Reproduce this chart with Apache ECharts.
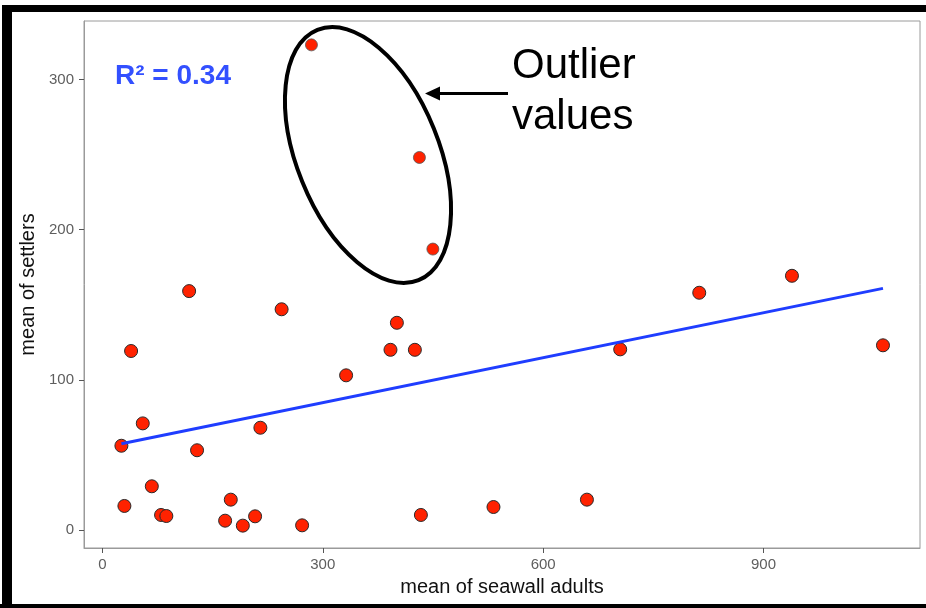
<!DOCTYPE html>
<html>
<head>
<meta charset="utf-8">
<script src="https://cdn.jsdelivr.net/npm/echarts@6/dist/echarts.min.js"></script>
<style>
html,body{margin:0;padding:0;background:#fff;}
#chart{width:926px;height:608px;}
</style>
</head>
<body>
<div id="chart"></div>
<script>
// seawall adults (x) vs settlers (y)
const adultsX = [25.9, 30.0, 39.1, 55.0, 67.3, 79.9, 87.1, 118.1, 128.9, 167.1, 174.8, 191.2, 207.9, 215.1, 244.0, 271.9, 331.8, 392.2, 400.9, 425.4, 433.6, 532.4, 659.6, 704.9, 812.5, 938.7, 1062.6];
const settlersY = [56.1, 16.0, 119.2, 71.0, 29.1, 10.0, 9.3, 159.1, 53.1, 6.2, 20.2, 2.9, 9.1, 68.1, 147.0, 3.1, 103.0, 120.0, 138.0, 120.0, 10.0, 15.3, 20.2, 120.3, 158.0, 169.3, 123.0];
const outlierX = [284.6, 431.6, 449.9];
const outlierY = [323.1, 248.1, 187.1];
const fitX = [25.9, 1062.6];
const fitY = [57.4, 160.9];
const xTicks = [0, 300, 600, 900];
const yTicks = [0, 100, 200, 300];
const r2Label = 'R² = 0.34';
const noteLines = ['Outlier', 'values'];

const FONT = '"Liberation Sans", Arial, Helvetica, sans-serif';
const chart = echarts.init(document.getElementById('chart'), null, {renderer: 'canvas'});

const mainPts = adultsX.map((x, i) => [x, settlersY[i]]);
const outPts = outlierX.map((x, i) => [x, outlierY[i]]);
const fitPts = fitX.map((x, i) => [x, fitY[i]]);

const axisCommon = {
  axisLine: {show: true, onZero: false, lineStyle: {color: '#9a9a9a', width: 1}},
  axisTick: {show: true, length: 5, lineStyle: {color: '#555', width: 1}},
  splitLine: {show: false},
  nameTextStyle: {fontFamily: FONT, fontSize: 20, color: '#111'}
};

chart.setOption({
  animation: false,
  backgroundColor: '#ffffff',
  grid: {left: 84, right: 6, top: 21, bottom: 60, show: true, borderColor: '#9a9a9a', borderWidth: 1, containLabel: false},
  xAxis: Object.assign({}, axisCommon, {
    type: 'value', min: -25, max: 1113,
    name: 'mean of seawall adults', nameLocation: 'middle', nameGap: 29,
    axisTick: Object.assign({}, axisCommon.axisTick, {customValues: xTicks}),
    axisLabel: {customValues: xTicks, margin: 9, fontFamily: FONT, fontSize: 15, color: '#5e5e5e'}
  }),
  yAxis: Object.assign({}, axisCommon, {
    type: 'value', min: -12, max: 339,
    name: 'mean of settlers', nameLocation: 'middle', nameGap: 43,
    axisTick: Object.assign({}, axisCommon.axisTick, {customValues: yTicks}),
    axisLabel: {customValues: yTicks, margin: 10, fontFamily: FONT, fontSize: 15, color: '#5e5e5e'}
  }),
  series: [
    {
      type: 'scatter', data: mainPts, symbol: 'circle', symbolSize: 13, z: 2,
      itemStyle: {color: '#ff2200', borderColor: '#2a2a2a', borderWidth: 1, opacity: 1}
    },
    {
      type: 'scatter', data: outPts, symbol: 'circle', symbolSize: 12, z: 2,
      itemStyle: {color: '#ff2200', borderColor: '#555', borderWidth: 0.8, opacity: 1}
    },
    {
      type: 'line', data: fitPts, showSymbol: false, symbol: 'none', z: 3,
      lineStyle: {color: '#1f3dff', width: 3}
    }
  ],
  graphic: [
    // outer frame
    {type: 'rect', shape: {x: 4, y: 5, width: 922, height: 7}, style: {fill: '#000'}, z: 100},
    {type: 'rect', shape: {x: 2, y: 5, width: 10, height: 603}, style: {fill: '#000'}, z: 100},
    {type: 'rect', shape: {x: 0, y: 604, width: 926, height: 4}, style: {fill: '#000'}, z: 100},
    // R squared label
    {type: 'text', x: 115, y: 76, style: {text: r2Label, fontFamily: FONT, fontSize: 28, fontWeight: 'bold', fill: '#3350ff', verticalAlign: 'middle', align: 'left'}, z: 100},
    // outlier ellipse
    {type: 'ellipse', x: 368, y: 155, rotation: 22 * Math.PI / 180, shape: {cx: 0, cy: 0, rx: 71, ry: 135}, style: {fill: 'none', stroke: '#000', lineWidth: 4}, z: 100},
    // arrow
    {type: 'line', shape: {x1: 436, y1: 93.5, x2: 508, y2: 93.5}, style: {stroke: '#000', lineWidth: 3}, z: 100},
    {type: 'polygon', shape: {points: [[425, 93.5], [440, 86.5], [440, 100.5]]}, style: {fill: '#000'}, z: 100},
    // note text
    {type: 'text', x: 512, y: 66, style: {text: noteLines[0], fontFamily: FONT, fontSize: 42, fill: '#000', verticalAlign: 'middle', align: 'left'}, z: 100},
    {type: 'text', x: 512, y: 117, style: {text: noteLines[1], fontFamily: FONT, fontSize: 42, fill: '#000', verticalAlign: 'middle', align: 'left'}, z: 100}
  ]
});
</script>
</body>
</html>
